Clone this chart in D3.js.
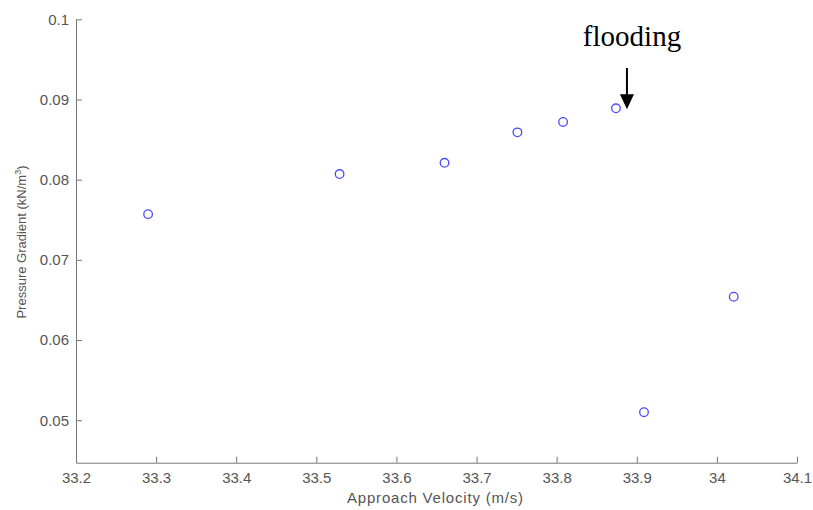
<!DOCTYPE html>
<html>
<head>
<meta charset="utf-8">
<script src="https://cdn.jsdelivr.net/npm/d3@7"></script>
<style>
  body { margin: 0; background: #fff; }
  .tick text { font-family: "Liberation Sans", Arial, sans-serif; font-size: 15px; fill: #555; }
</style>
</head>
<body>
<svg id="chart" width="813" height="510"></svg>
<script>
var velocity = [33.290, 33.529, 33.660, 33.751, 33.808, 33.874, 33.909, 34.021]
  , gradient = [0.0757, 0.0807, 0.0821, 0.0859, 0.0872, 0.0889, 0.0510, 0.0654]
  , xTicks = [33.2, 33.3, 33.4, 33.5, 33.6, 33.7, 33.8, 33.9, 34, 34.1]
  , yTicks = [0.05, 0.06, 0.07, 0.08, 0.09, 0.1]
  , floodIndex = 5

var svg = d3.select('svg#chart')
  , axisColor = '#777'
  , sans = '"Liberation Sans", Arial, sans-serif'

var x = d3.scaleLinear().domain([33.2, 34.1]).range([76, 797])
  , y = d3.scaleLinear().domain([0.0447, 0.1]).range([462.7, 19.3])

// matlab style ticks point inward
svg.append('g').attr('transform', 'translate(0,' + y.range()[0] + ')')
  .call(d3.axisBottom(x).tickValues(xTicks).tickSizeInner(-6).tickSizeOuter(0)
    .tickPadding(10).tickFormat(d3.format('')))
svg.append('g').attr('transform', 'translate(' + x.range()[0] + ',0)')
  .call(d3.axisLeft(y).tickValues(yTicks).tickSizeInner(-6).tickSizeOuter(0)
    .tickPadding(7).tickFormat(d3.format('')))

svg.selectAll('.domain, .tick line').attr('stroke', axisColor)

svg.append('text')
  .attr('x', 435).attr('y', 503)
  .attr('text-anchor', 'middle')
  .attr('textLength', 176)
  .style('font-family', sans)
  .style('font-size', '15px').attr('fill', '#555')
  .text('Approach Velocity (m/s)')

var yl = svg.append('text')
  .attr('transform', 'translate(26,242) rotate(-90)')
  .attr('text-anchor', 'middle')
  .style('font-family', sans)
  .style('font-size', '13px').attr('fill', '#555')
yl.append('tspan').text('Pressure Gradient (kN/m')
yl.append('tspan').attr('dy', -5).style('font-size', '9px').text('3')
yl.append('tspan').attr('dy', 5).text(')')

svg.selectAll('circle.pt').data(velocity)
  .enter().append('circle').classed('pt', true)
  .attr('cx', function(d) { return x(d) })
  .attr('cy', function(d, i) { return y(gradient[i]) })
  .attr('r', 4.3)
  .attr('fill', 'none')
  .attr('stroke', '#4a4aff')
  .attr('stroke-width', 1.3)

// flooding annotation
var fx = x(velocity[floodIndex]) + 11
  , fy = y(gradient[floodIndex])
svg.append('text')
  .attr('x', 632).attr('y', 46)
  .attr('text-anchor', 'middle')
  .style('font-family', '"Liberation Serif", "Times New Roman", serif')
  .style('font-size', '29px').attr('fill', '#000')
  .text('flooding')
svg.append('line')
  .attr('x1', fx).attr('x2', fx)
  .attr('y1', 68).attr('y2', fy - 12)
  .attr('stroke', '#000').attr('stroke-width', 2)
svg.append('path')
  .attr('d', 'M' + (fx - 7) + ',' + (fy - 14) + 'L' + (fx + 7) + ',' + (fy - 14) + 'L' + fx + ',' + (fy + 1) + 'Z')
  .attr('fill', '#000')
</script>
</body>
</html>
